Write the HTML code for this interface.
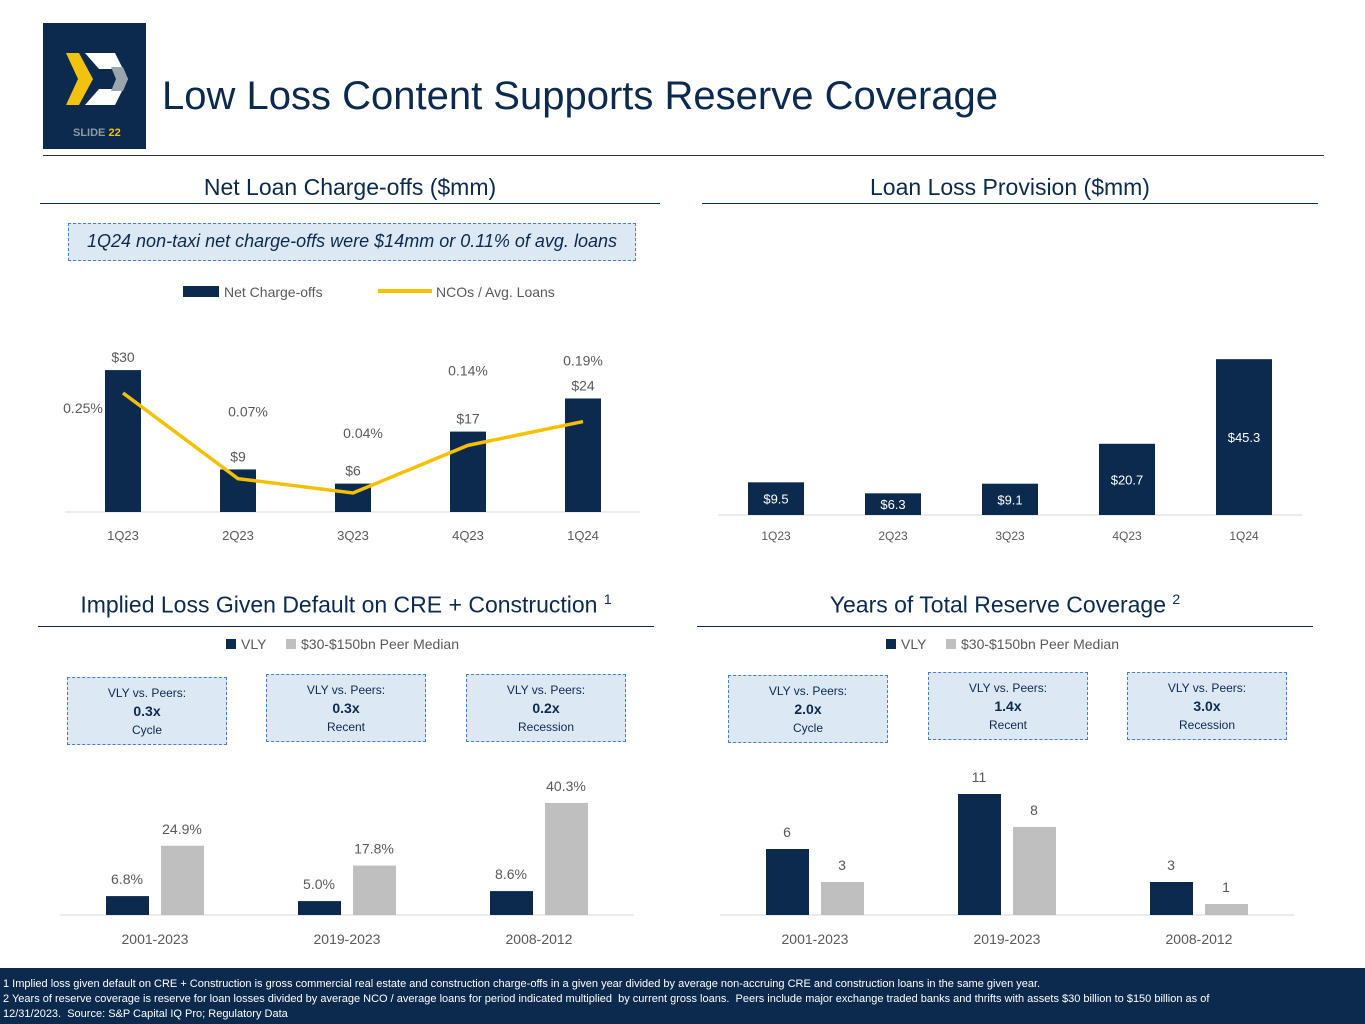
<!DOCTYPE html>
<html><head><meta charset="utf-8"><style>
body{margin:0;width:1365px;height:1024px;position:relative;background:#fff;font-family:"Liberation Sans",sans-serif;overflow:hidden}
.abs{position:absolute}
.h2{position:absolute;font-size:23px;color:#0b2a4e;text-align:center}
.rule{position:absolute;height:1px;background:#0b2a4e}
.box{position:absolute;border:1.5px dashed #4a7fc0;background:#dde8f5;color:#0b2a4e;text-align:center;font-size:12px;line-height:18px;box-sizing:border-box}
svg text{font-family:"Liberation Sans",sans-serif}
</style></head><body>
<div class="abs" style="left:43px;top:23px;width:103px;height:126px;background:#0b2a4e">
<svg width="103" height="126"><polygon points="23,30 36,30 50,56 36,82 23,82 35,56" fill="#f2c20f"/><polygon points="42,30 72,30 85,56 72,82 42,82 56,66 70,66 75,56 70,46 56,46" fill="#fff"/><polygon points="68,44 80,44 85,56 80,68 68,68 73,56" fill="#9aa5ae"/>
<text x="30" y="113" font-size="11" fill="#8e9aa7" font-weight="bold">SLIDE <tspan fill="#f2c20f">22</tspan></text></svg></div>
<div class="abs" style="left:162px;top:74px;font-size:40px;color:#0b2a4e">Low Loss Content Supports Reserve Coverage</div>
<div class="rule" style="left:43px;top:155px;width:1281px;background:#333"></div>

<div class="h2" style="left:40px;top:174px;width:620px">Net Loan Charge-offs ($mm)</div>
<div class="rule" style="left:40px;top:203px;width:620px"></div>
<div class="h2" style="left:702px;top:174px;width:616px">Loan Loss Provision ($mm)</div>
<div class="rule" style="left:702px;top:203px;width:616px"></div>
<div class="h2" style="left:38px;top:591px;width:616px">Implied Loss Given Default on CRE + Construction <sup style="font-size:14px">1</sup></div>
<div class="rule" style="left:38px;top:626px;width:616px"></div>
<div class="h2" style="left:697px;top:591px;width:616px">Years of Total Reserve Coverage <sup style="font-size:14px">2</sup></div>
<div class="rule" style="left:697px;top:626px;width:616px"></div>

<div class="box" style="left:68px;top:223px;width:568px;height:38px;font-size:18px;line-height:34px;font-style:italic">1Q24 non-taxi net charge-offs were $14mm or 0.11% of avg. loans</div>

<div class="box" style="left:67px;top:677px;width:160px;height:68px;padding-top:6px">VLY vs. Peers:<br><b style="font-size:14px">0.3x</b><br>Cycle</div>
<div class="box" style="left:266px;top:674px;width:160px;height:68px;padding-top:6px">VLY vs. Peers:<br><b style="font-size:14px">0.3x</b><br>Recent</div>
<div class="box" style="left:466px;top:674px;width:160px;height:68px;padding-top:6px">VLY vs. Peers:<br><b style="font-size:14px">0.2x</b><br>Recession</div>
<div class="box" style="left:728px;top:675px;width:160px;height:68px;padding-top:6px">VLY vs. Peers:<br><b style="font-size:14px">2.0x</b><br>Cycle</div>
<div class="box" style="left:928px;top:672px;width:160px;height:68px;padding-top:6px">VLY vs. Peers:<br><b style="font-size:14px">1.4x</b><br>Recent</div>
<div class="box" style="left:1127px;top:672px;width:160px;height:68px;padding-top:6px">VLY vs. Peers:<br><b style="font-size:14px">3.0x</b><br>Recession</div>

<svg id="c" class="abs" style="left:0;top:0" width="1365" height="968"></svg>

<div class="abs" style="left:0;top:968px;width:1365px;height:56px;background:#0b2a4e;color:#fff;font-size:11px;line-height:15px;padding:9px 0 0 3px;box-sizing:border-box">1 Implied loss given default on CRE + Construction is gross commercial real estate and construction charge-offs in a given year divided by average non-accruing CRE and construction loans in the same given year.<br>2 Years of reserve coverage is reserve for loan losses divided by average NCO / average loans for period indicated multiplied &nbsp;by current gross loans. &nbsp;Peers include major exchange traded banks and thrifts with assets $30 billion to $150 billion as of<br>12/31/2023. &nbsp;Source: S&amp;P Capital IQ Pro; Regulatory Data</div>

<script>
const quarters=["1Q23","2Q23","3Q23","4Q23","1Q24"];
const ncoVals=[30,9,6,17,24];
const ncoLabels=["$30","$9","$6","$17","$24"];
const ncoPct=[0.25,0.07,0.04,0.14,0.19];
const provVals=[9.5,6.3,9.1,20.7,45.3];
const periods=["2001-2023","2019-2023","2008-2012"];
const lgdVly=[6.8,5.0,8.6];
const lgdPeer=[24.9,17.8,40.3];
const covVly=[6,11,3];
const covPeer=[3,8,1];

const svg=document.getElementById('c');
const NS='http://www.w3.org/2000/svg';
function el(t,a,txt){const e=document.createElementNS(NS,t);for(const k in a)e.setAttribute(k,a[k]);if(txt!=null)e.textContent=txt;svg.appendChild(e);return e;}
const NAVY='#0b2a4e',GREY='#bfbfbf',TXT='#595959';

// NCO chart
const nx=i=>123+i*115, ny=v=>512-v*4.73, py=v=>512-v*476;
let e=el('line',{x1:65,x2:640,y1:512,y2:512,stroke:'#d9d9d9'});

ncoVals.forEach((v,i)=>{
 let r=el('rect',{x:nx(i)-18,y:ny(v),width:36,height:512-ny(v),fill:NAVY});
 
 let t=el('text',{x:nx(i),y:ny(v)-8,'text-anchor':'middle','font-size':14,fill:TXT},ncoLabels[i]);
 
 let q=el('text',{x:nx(i),y:540,'text-anchor':'middle','font-size':13,fill:TXT},quarters[i]);
 
});
let pts=ncoPct.map((v,i)=>nx(i)+','+py(v)).join(' ');
e=el('polyline',{points:pts,fill:'none',stroke:'#f5c000','stroke-width':3.5});

const pOff=[[-40,20],[10,-62],[10,-55],[0,-70],[0,-56]];
ncoPct.forEach((v,i)=>{
 let t=el('text',{x:nx(i)+pOff[i][0],y:py(v)+pOff[i][1],'text-anchor':'middle','font-size':14,fill:TXT},v.toFixed(2)+'%');
 
});
e=el('rect',{x:183,y:286,width:36,height:11,fill:NAVY});
e=el('text',{x:224,y:297,'font-size':14,fill:TXT},'Net Charge-offs');
e=el('line',{x1:378,x2:432,y1:291,y2:291,stroke:'#f5c000','stroke-width':4});
e=el('text',{x:436,y:297,'font-size':14,fill:TXT},'NCOs / Avg. Loans');

// Provision chart
const vx=i=>776+i*117, vy=v=>515-v*3.44;
e=el('line',{x1:718,x2:1302,y1:515,y2:515,stroke:'#d9d9d9'});
provVals.forEach((v,i)=>{
 let r=el('rect',{x:vx(i)-28,y:vy(v),width:56,height:515-vy(v),fill:NAVY});
 
 let t=el('text',{x:vx(i),y:(vy(v)+515)/2+5,'text-anchor':'middle','font-size':13,fill:'#fff'},'$'+v.toFixed(1));
 
 let q=el('text',{x:vx(i),y:540,'text-anchor':'middle','font-size':12,fill:TXT},quarters[i]);
 
});

// grouped charts
function grouped(x0,scale,vly,peer,fmt,prefix,legX){
 const gx=i=>x0+i*192, by=v=>915-v*scale;
 let a=el('line',{x1:x0-67,x2:x0+507,y1:915,y2:915,stroke:'#d9d9d9'});
 periods.forEach((p,i)=>{
  [[vly[i],NAVY,0,'vly'],[peer[i],GREY,55,'peer']].forEach(([v,c,o,n])=>{
   let r=el('rect',{x:gx(i)+o-21,y:by(v),width:43,height:915-by(v),fill:c});
   
   let t=el('text',{x:gx(i)+o,y:by(v)-12,'text-anchor':'middle','font-size':14,fill:TXT},fmt(v));
   
  });
  let q=el('text',{x:gx(i)+28,y:944,'text-anchor':'middle','font-size':14,fill:TXT},p);
  
 });
 let s=el('rect',{x:legX,y:639,width:10,height:10,fill:NAVY});
 s=el('text',{x:legX+15,y:649,'font-size':14,fill:TXT},'VLY');
 s=el('rect',{x:legX+60,y:639,width:10,height:10,fill:GREY});
 s=el('text',{x:legX+75,y:649,'font-size':14,fill:TXT},'$30-$150bn Peer Median');
}
grouped(127,2.78,lgdVly,lgdPeer,v=>v.toFixed(1)+'%','lgd',226);
grouped(787,11,covVly,covPeer,v=>String(v),'coverage',886);
</script>
</body></html>
